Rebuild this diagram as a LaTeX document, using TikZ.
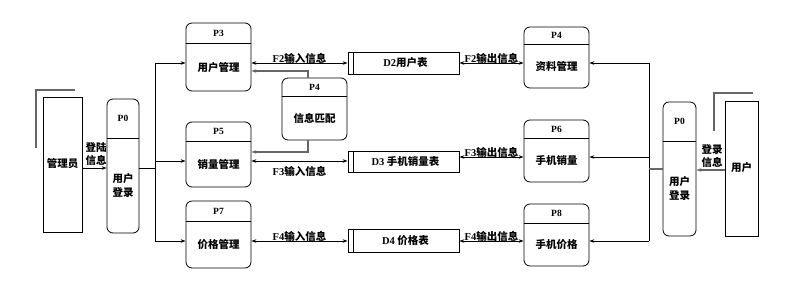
\documentclass[tikz,border=0pt]{standalone}
\usepackage{fontspec}
\setmainfont{Liberation Serif}
\newfontfamily\cjk{Noto Sans CJK SC}
\usetikzlibrary{arrows.meta}
\tikzset{
  proc/.style={draw, rounded corners=6pt, inner sep=0pt, line width=0.8pt},
  store/.style={draw, inner sep=0pt, line width=0.8pt},
  ent/.style={draw, inner sep=0pt, line width=0.8pt},
  ptag/.style={font=\bfseries\fontsize{9.5}{10}\selectfont, inner sep=0pt},
  ptext/.style={font=\cjk\bfseries\fontsize{10.5}{13.5}\selectfont, inner sep=0pt, align=center},
  flab/.style={font=\bfseries\fontsize{10.5}{12}\selectfont, inner sep=0pt},
  slab/.style={font=\bfseries\fontsize{10.5}{12}\selectfont, inner sep=0pt},
  tip/.tip={Stealth[length=5pt,width=3.5pt]},
  flow/.style={-tip, line width=0.7pt},
  bi/.style={tip-tip, line width=0.7pt},
  gline/.style={draw=black!60, line width=1.1pt},
  bus/.style={line width=0.7pt},
}
\newcommand\procbox[8]{%
  \node[proc, minimum width={#4-#2}, minimum height={#5-#3}] (#1) at ({(#2+#4)/2},{(#3+#5)/2}) {};
  \coordinate (#1d) at (0,#6);
  \draw[line width=0.8pt] (#1.west |- #1d) -- (#1.east |- #1d);
  \node[ptag] (#1l) at ({(#2+#4)/2},{(#3+#6)/2}) {#7};
  \node[ptext] (#1t) at ({(#2+#4)/2},{(#6+#5)/2}) {#8};
}
\newcommand\storebox[6]{%
  \node[store, minimum width={#4-#2}, minimum height={#5-#3}] (#1) at ({(#2+#4)/2},{(#3+#5)/2}) {};
  \draw[line width=0.8pt] ([xshift=6pt]#1.north west) -- ([xshift=6pt]#1.south west);
  \node[slab] (#1t) at ({(#2+#4)/2+2},{(#3+#5)/2}) {#6};
}
\begin{document}
\begin{tikzpicture}[x=1pt, y=-1pt]
\useasboundingbox (0,0) rectangle (806,282);

% external entities
\node[ent, minimum width=39, minimum height=135] (adm) at (62.5,164.5) {};
\node[ptext] (admt) at (62.5,164) {管理员};
\draw[gline] (36,148) -- (36,90) -- (75,90);

\node[ent, minimum width=33, minimum height=135] (usr) at (741.5,168.5) {};
\node[ptext] (usrt) at (741.5,168) {用户};
\draw[gline] (714,131) -- (714,93) -- (753,93);

% processes
\procbox{p0l}{107}{99}{139}{233}{138}{P0}{用户\\登录}
\procbox{p0r}{663}{102}{696}{236}{141}{P0}{用户\\登录}
\procbox{p3}{186}{23}{251}{91}{43}{P3}{用户管理}
\procbox{p5}{186}{122}{251}{187}{141}{P5}{销量管理}
\procbox{p7}{186}{201}{251}{268}{221}{P7}{价格管理}
\procbox{p4m}{282}{78}{347}{140}{96}{P4}{信息匹配}
\procbox{p4}{524}{27}{589}{88}{44}{P4}{资料管理}
\procbox{p6}{524}{120}{589}{182}{138}{P6}{手机销量}
\procbox{p8}{524}{204}{589}{266}{223}{P8}{手机价格}

% data stores
\storebox{d2}{348}{52}{459}{74}{D2{\cjk\bfseries 用户表}}
\storebox{d3}{348}{151}{459}{172}{D3 {\cjk\bfseries 手机销量表}}
\storebox{d4}{348}{229}{459}{252}{D4 {\cjk\bfseries 价格表}}

% left login
\coordinate (ya) at (0,168);
\draw[flow] (adm.east |- ya) -- (p0l.west |- ya);
\node[ptext, align=center] (lg1) at (96,154) {登陆\\信息};

% left bus
\coordinate (bl1) at (155,63);
\coordinate (bl2) at (155,161);
\coordinate (bl3) at (155,241);
\coordinate (blj) at (155,168);
\draw[bus] (p0l.east |- blj) -- (blj);
\draw[bus] (bl1) -- (bl3);
\draw[flow] (bl1) -- (p3.west |- bl1);
\draw[flow] (bl2) -- (p5.west |- bl2);
\draw[flow] (bl3) -- (p7.west |- bl3);

% P4 match
\coordinate (m1) at (308,71);
\coordinate (m2) at (308,152);
\draw[gline, -tip] (p4m.north -| m1) -- (m1) -- (p3.east |- m1);
\draw[gline, -tip] (p4m.south -| m2) -- (m2) -- (p5.east |- m2);

% flows left
\draw[bi] (p3.east |- bl1) -- (d2.west |- bl1);
\node[flab] (f2i) at (299.5,58) {F2{\cjk 输入信息}};
\draw[bi] (p5.east |- bl2) -- (d3.west |- bl2);
\node[flab] (f3i) at (299.5,171) {F3{\cjk 输入信息}};
\draw[bi] (p7.east |- bl3) -- (d4.west |- bl3);
\node[flab] (f4i) at (299.5,236) {F4{\cjk 输入信息}};

% flows right
\coordinate (br1) at (649,63);
\coordinate (br2) at (649,157);
\coordinate (br3) at (649,241);
\coordinate (brj) at (649,169);
\draw[bi] (d2.east |- br1) -- (p4.west |- br1);
\node[flab] (f2o) at (491.5,58) {F2{\cjk 输出信息}};
\draw[bi] (d3.east |- br2) -- (p6.west |- br2);
\node[flab] (f3o) at (491.5,152) {F3{\cjk 输出信息}};
\draw[bi] (d4.east |- br3) -- (p8.west |- br3);
\node[flab] (f4o) at (491.5,236) {F4{\cjk 输出信息}};

% right bus
\draw[bus] (br1) -- (br3);
\draw[flow] (br1) -- (p4.east |- br1);
\draw[flow] (br2) -- (p6.east |- br2);
\draw[flow] (br3) -- (p8.east |- br3);
\draw[gline] (p0r.west |- brj) -- (brj);

% right login
\coordinate (yb) at (0,170);
\draw[gline, -tip] (usr.west |- yb) -- (p0r.east |- yb);
\node[ptext, align=center] (lg2) at (712,156) {登录\\信息};
\end{tikzpicture}
\end{document}
